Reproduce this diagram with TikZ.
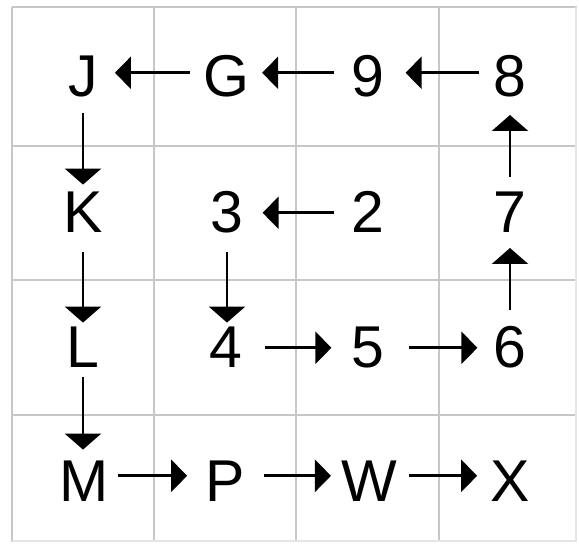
\documentclass[tikz,border=0pt]{standalone}
\usepackage{fontspec}
\setmainfont{Liberation Sans}
\usetikzlibrary{arrows.meta}
\tikzset{
  gridline/.style={draw=black!22, line width=1.6pt},
  faintline/.style={draw=black!10, line width=1.2pt},
  lbl/.style={anchor=south, inner sep=0pt, text height=40pt, text depth=0pt, font=\fontsize{59}{60}\selectfont},
  harr/.style={line width=2.8pt, -{Triangle[length=16pt,width=32pt]}},
  varr/.style={line width=2.8pt, -{Triangle[length=16pt,width=36pt]}}
}
\begin{document}
\begin{tikzpicture}[x=1pt,y=1pt]
\useasboundingbox (0,0) rectangle (579,546);
% grid
\draw[gridline] (12,4) -- (12,539);
\draw[gridline] (154,4) -- (154,539);
\draw[gridline] (296,4) -- (296,539);
\draw[gridline] (439,4) -- (439,539);
\draw[gridline] (12,539) -- (577,539);
\draw[gridline] (12,400) -- (577,400);
\draw[gridline] (12,266) -- (577,266);
\draw[gridline] (12,131) -- (577,131);
\draw[faintline] (576,4) -- (576,539);
\draw[faintline] (12,5) -- (577,5);
% labels
\node[lbl] (J) at (83,449) {J};
\node[lbl] (G) at (226,449) {G};
\node[lbl] (n9) at (368,449) {9};
\node[lbl] (n8) at (510,449) {8};
\node[lbl] (K) at (83,313) {K};
\node[lbl] (n3) at (227,313) {3};
\node[lbl] (n2) at (368,313) {2};
\node[lbl] (n7) at (510,313) {7};
\node[lbl] (L) at (83,178) {L};
\node[lbl] (n4) at (226,178) {4};
\node[lbl] (n5) at (368,178) {5};
\node[lbl] (n6) at (510,178) {6};
\node[lbl] (M) at (84,44) {M};
\node[lbl] (P) at (225,44) {P};
\node[lbl] (W) at (369,44) {W};
\node[lbl] (X) at (510,44) {X};
% arrows
\begin{scope}[transform canvas={yshift=4pt}]
\draw[harr, shorten <=13pt, shorten >=17pt] (G.west) -- (J.east);
\draw[harr, shorten <=17pt, shorten >=13pt] (n9.west) -- (G.east);
\draw[harr, shorten <=14pt, shorten >=21pt] (n8.west) -- (n9.east);
\end{scope}
\draw[harr, shorten <=17pt, shorten >=19pt] (n2.west) -- (n3.east);
\draw[harr, shorten <=22pt, shorten >=20pt] (n4.east) -- (n5.west);
\draw[harr, shorten <=24pt, shorten >=16pt] (n5.east) -- (n6.west);
\begin{scope}[transform canvas={yshift=6pt}]
\draw[harr, shorten <=9pt, shorten >=18pt] (M.east) -- (P.west);
\draw[harr, shorten <=19pt, shorten >=10pt] (P.east) -- (W.west);
\draw[harr, shorten <=12pt, shorten >=13pt] (W.east) -- (X.west);
\end{scope}
\draw[varr, shorten <=16pt, shorten >=8pt] (J.south) -- (J.south |- K.north);
\draw[varr, shorten <=19pt, shorten >=5pt] (K.south) -- (K.south |- L.north);
\draw[varr, shorten <=9pt, shorten >=12pt] (L.south) -- (L.south |- M.north);
\draw[varr, shorten <=19pt, shorten >=5pt] (n3.south) -- (n3.south |- n4.north);
\draw[varr, shorten <=18pt, shorten >=15pt] (n6.north) -- (n6.north |- n7.south);
\draw[varr, shorten <=16pt, shorten >=18pt] (n7.north) -- (n7.north |- n8.south);
\end{tikzpicture}
\end{document}
